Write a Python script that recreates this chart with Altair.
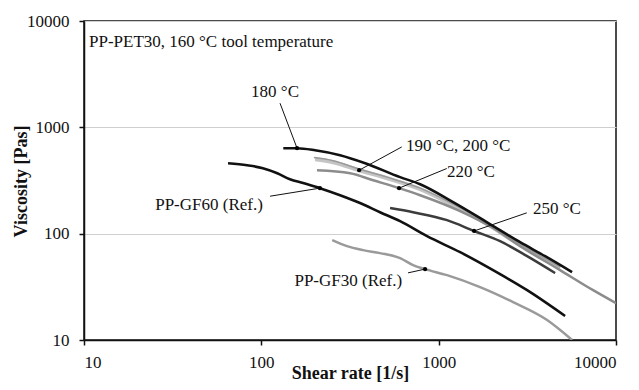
import altair as alt
import pandas as pd

# ---- curves: shear rate [1/s] / viscosity [Pas] ----
t180_x = [133, 159, 201, 278, 385, 606, 786, 1206, 1875, 2879, 3982, 5655]
t180_y = [636, 636, 609, 547, 460, 340, 292, 198, 128, 83.2, 61.4, 43.5]
t190_x = [201, 254, 356, 512, 786, 1206, 1875, 2879, 4838]
t190_y = [501, 470, 395, 332, 262, 185, 123, 78, 47.4]
t200_x = [198, 254, 356, 512, 786, 1206, 1875, 2879, 4838]
t200_y = [520, 486, 405, 340, 268, 190, 126, 80, 48.5]
t220_x = [206, 317, 427, 598, 786, 1321, 2027, 2879, 4838, 7429, 10000]
t220_y = [395, 370, 318, 268, 230, 163, 113, 76.3, 45.4, 29.4, 22.2]
t250_x = [532, 717, 1115, 1584, 2220, 3153, 4535]
t250_y = [174, 159, 134, 106, 85, 61.4, 42.6]
gf60_x = [64.9, 83.1, 102, 123, 145, 172, 214, 278, 360, 467, 606, 860, 1321, 2220, 3153, 5163]
gf60_y = [460, 440, 413, 370, 325, 299, 268, 230, 194, 159, 131, 94.7, 67, 41.6, 29.4, 16.8]
gf30_x = [251, 304, 375, 467, 606, 717, 838, 1115, 1712, 2628, 4087, 5655]
gf30_y = [86.9, 76.3, 70, 65.6, 58.9, 50.6, 46.4, 40.7, 31.4, 22.7, 15.4, 10]

# ---- annotations ----
marker_x = [159, 356, 598, 1584, 214, 838]
marker_y = [636, 395, 268, 106, 268, 46.4]
leader_x1 = [127.5, 619, 1111, 3140, 112, 672]
leader_y1 = [1685, 654, 410, 157, 225, 42.8]
label_text = ["180 °C", "190 °C, 200 °C", "220 °C", "250 °C", "PP-GF60 (Ref.)", "PP-GF30 (Ref.)",
              "PP-PET30, 160 °C tool temperature"]
label_x = [119.5, 655, 1115, 3407, 102, 622, 10.67]
label_y = [2151, 664, 378, 170, 185, 35.8, 6306]
label_align = ["center", "left", "left", "left", "right", "right", "left"]

FONT = "Liberation Serif"
xs = alt.Scale(type="log", domain=[10, 10000], nice=False)
ys = alt.Scale(type="log", domain=[10, 10000], nice=False)

x_axis = alt.Axis(values=[10, 100, 1000, 10000], format="d", tickSize=5, labelPadding=9,
                  title="Shear rate [1/s]", titleY=33, titleBaseline="middle",
                  grid=False)
y_axis = alt.Axis(values=[10, 100, 1000, 10000], format="d", tickSize=5, labelPadding=10,
                  title="Viscosity [Pas]", titleX=-63, titleY=160, titleAngle=270,
                  titleAlign="center", titleBaseline="middle",
                  grid=True, gridColor="#cfcfcf", gridWidth=1)


def X(f="x:Q"):
    return alt.X(f, scale=xs, axis=x_axis)


def Y(f="y:Q"):
    return alt.Y(f, scale=ys, axis=y_axis)


def curve(xv, yv, color, width):
    df = pd.DataFrame({"x": xv, "y": yv, "o": range(len(xv))})
    return alt.Chart(df).mark_line(color=color, strokeWidth=width, interpolate="monotone",
                                   clip=True).encode(x=X(), y=Y(), order="o:Q")


layers = [
    curve(t190_x, t190_y, "#c4c4c4", 4.0),
    curve(t200_x, t200_y, "#9a9a9a", 1.5),
    curve(t220_x, t220_y, "#8c8c8c", 2.5),
    curve(gf30_x, gf30_y, "#9a9a9a", 2.5),
    curve(t250_x, t250_y, "#3c3c3c", 2.5),
    curve(gf60_x, gf60_y, "#111111", 2.6),
    curve(t180_x, t180_y, "#111111", 2.6),
]

leaders = pd.DataFrame({"x": leader_x1, "y": leader_y1, "x2": marker_x, "y2": marker_y})
layers.append(alt.Chart(leaders).mark_rule(color="#111111", strokeWidth=1).encode(
    x=X(), y=Y(), x2="x2:Q", y2="y2:Q"))

markers = pd.DataFrame({"x": marker_x, "y": marker_y})
layers.append(alt.Chart(markers).mark_circle(color="#000000", size=18, opacity=1).encode(
    x=X(), y=Y()))

labels = pd.DataFrame({"t": label_text, "x": label_x, "y": label_y, "a": label_align})
for al in ["left", "center", "right"]:
    sub = labels[labels["a"] == al]
    layers.append(alt.Chart(sub).mark_text(align=al, baseline="middle", font=FONT, fontSize=17,
                                           color="#111111").encode(
        x=X(), y=Y(), text="t:N"))

chart = alt.layer(*layers).properties(
    width=532, height=319,
    background="white",
    autosize=alt.AutoSizeParams(type="none"),
    padding={"left": 76, "top": 13, "right": 15, "bottom": 42},
).configure_view(stroke="#111111", strokeWidth=1.5).configure_axis(
    labelFont=FONT, labelFontSize=17, labelColor="#111111",
    titleFont=FONT, titleFontSize=18, titleFontWeight="bold", titleColor="#111111",
    domainColor="#111111", domainWidth=1.5, tickColor="#111111", tickWidth=1.5,
)

chart.save("out.html", embed_options={"renderer": "svg", "actions": False})
